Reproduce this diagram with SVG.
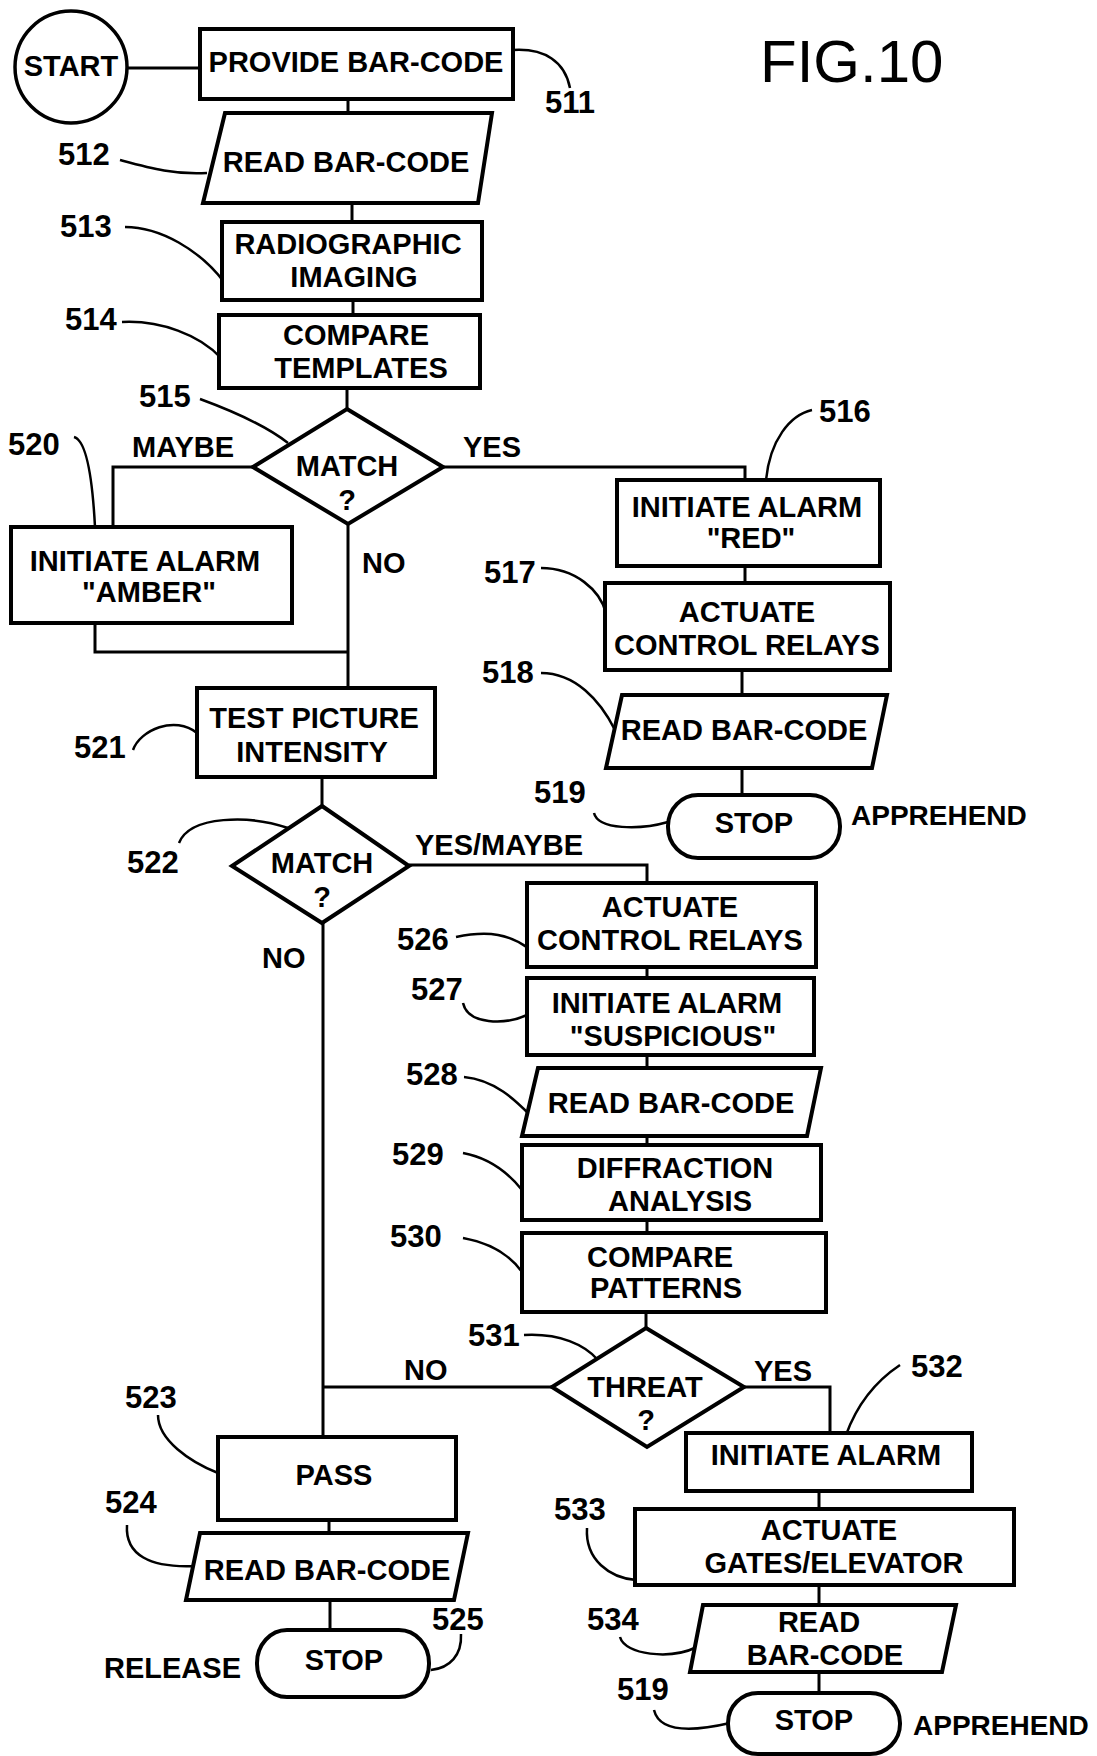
<svg xmlns="http://www.w3.org/2000/svg" width="1097" height="1756" viewBox="0 0 1097 1756">
<style>
.n{fill:#fff;stroke:#000;stroke-width:4}
.c{fill:none;stroke:#000;stroke-width:3}
.l{fill:none;stroke:#000;stroke-width:2.5}
text{font-family:"Liberation Sans",Arial,sans-serif;font-weight:bold;font-size:29px;fill:#000}
.t{text-anchor:middle}
.r{font-size:31px}
</style>
<rect width="1097" height="1756" fill="#fff"/>
<text x="760" y="82" style="font-size:60px;font-weight:normal">FIG.10</text>
<g id="connectors">
<path class="c" d="M127,68 H200"/>
<path class="c" d="M348,99 V113"/>
<path class="c" d="M352,203 V222"/>
<path class="c" d="M353,300 V315"/>
<path class="c" d="M347,388 V409"/>
<path class="c" d="M253,467 H113 V527"/>
<path class="c" d="M95,623 V652 H349"/>
<path class="c" d="M348,524 V690"/>
<path class="c" d="M443,467 H745 V480"/>
<path class="c" d="M745,566 V583"/>
<path class="c" d="M742,670 V695"/>
<path class="c" d="M742,768 V795"/>
<path class="c" d="M322,777 V806"/>
<path class="c" d="M409,865 H647 V883"/>
<path class="c" d="M647,967 V978"/>
<path class="c" d="M647,1055 V1068"/>
<path class="c" d="M647,1136 V1145"/>
<path class="c" d="M647,1220 V1233"/>
<path class="c" d="M646,1312 V1328"/>
<path class="c" d="M323,923 V1437"/>
<path class="c" d="M552,1387 H323"/>
<path class="c" d="M744,1387 H830 V1433"/>
<path class="c" d="M819,1491 V1509"/>
<path class="c" d="M819,1585 V1605"/>
<path class="c" d="M819,1672 V1693"/>
<path class="c" d="M329,1520 V1533"/>
<path class="c" d="M330,1600 V1630"/>
<text x="132" y="457">MAYBE</text>
<text x="463" y="457">YES</text>
<text x="362" y="573">NO</text>
<text x="415" y="855">YES/MAYBE</text>
<text x="262" y="968">NO</text>
<text x="404" y="1380">NO</text>
<text x="754" y="1381">YES</text>
<text x="851" y="825" style="font-size:28px">APPREHEND</text>
<text x="104" y="1678">RELEASE</text>
<text x="913" y="1735" style="font-size:28px">APPREHEND</text>
</g>
<g id="leaders">
<path class="l" d="M513,50 C545,48 565,62 570,88"/>
<path class="l" d="M120,160 C150,168 175,175 207,173"/>
<path class="l" d="M125,227 C160,227 200,250 224,282"/>
<path class="l" d="M122,322 C160,320 200,335 221,358"/>
<path class="l" d="M200,399 C230,410 265,425 288,443"/>
<path class="l" d="M74,437 C85,440 92,470 95,527"/>
<path class="l" d="M812,410 C790,415 770,440 766,480"/>
<path class="l" d="M541,568 C575,568 600,590 606,613"/>
<path class="l" d="M541,673 C575,673 600,700 615,730"/>
<path class="l" d="M594,813 C598,830 640,830 668,822"/>
<path class="l" d="M133,750 C140,730 175,715 197,733"/>
<path class="l" d="M179,843 C190,815 250,815 288,828"/>
<path class="l" d="M456,937 C490,930 510,935 528,948"/>
<path class="l" d="M463,1003 C468,1025 505,1025 527,1015"/>
<path class="l" d="M464,1077 C495,1080 515,1100 530,1115"/>
<path class="l" d="M463,1153 C490,1158 510,1175 522,1190"/>
<path class="l" d="M463,1238 C490,1243 510,1255 522,1272"/>
<path class="l" d="M524,1335 C560,1333 585,1345 598,1360"/>
<path class="l" d="M900,1365 C870,1385 855,1410 846,1435"/>
<path class="l" d="M158,1415 C158,1440 190,1462 218,1473"/>
<path class="l" d="M127,1525 C125,1555 150,1568 195,1566"/>
<path class="l" d="M461,1634 C462,1655 450,1668 431,1670"/>
<path class="l" d="M587,1528 C585,1560 610,1578 636,1580"/>
<path class="l" d="M620,1637 C625,1655 670,1660 697,1647"/>
<path class="l" d="M654,1710 C660,1735 700,1730 730,1723"/>
<text class="r" x="545" y="113">511</text>
<text class="r" x="58" y="165">512</text>
<text class="r" x="60" y="237">513</text>
<text class="r" x="65" y="330">514</text>
<text class="r" x="139" y="407">515</text>
<text class="r" x="8" y="455">520</text>
<text class="r" x="819" y="422">516</text>
<text class="r" x="484" y="583">517</text>
<text class="r" x="482" y="683">518</text>
<text class="r" x="534" y="803">519</text>
<text class="r" x="74" y="758">521</text>
<text class="r" x="127" y="873">522</text>
<text class="r" x="397" y="950">526</text>
<text class="r" x="411" y="1000">527</text>
<text class="r" x="406" y="1085">528</text>
<text class="r" x="392" y="1165">529</text>
<text class="r" x="390" y="1247">530</text>
<text class="r" x="468" y="1346">531</text>
<text class="r" x="911" y="1377">532</text>
<text class="r" x="125" y="1408">523</text>
<text class="r" x="105" y="1513">524</text>
<text class="r" x="432" y="1630">525</text>
<text class="r" x="554" y="1520">533</text>
<text class="r" x="587" y="1630">534</text>
<text class="r" x="617" y="1700">519</text>
</g>
<g id="start"><circle class="n" style="stroke-width:3.5" cx="71" cy="67" r="56"/><text class="t" x="71" y="76">START</text></g>
<g id="n511"><rect class="n" x="200" y="29" width="313" height="70"/><text class="t" x="356" y="72">PROVIDE BAR-CODE</text></g>
<g id="n512"><polygon class="n" points="225,113 492,113 478,203 203,203"/><text class="t" x="346" y="172">READ BAR-CODE</text></g>
<g id="n513"><rect class="n" x="222" y="222" width="260" height="78"/><text class="t" x="348" y="254">RADIOGRAPHIC</text><text class="t" x="354" y="287">IMAGING</text></g>
<g id="n514"><rect class="n" x="219" y="315" width="261" height="73"/><text class="t" x="356" y="345">COMPARE</text><text class="t" x="361" y="378">TEMPLATES</text></g>
<g id="n515"><polygon class="n" points="347,409 443,467 348,524 253,467"/><text class="t" x="347" y="476">MATCH</text><text class="t" x="347" y="510">?</text></g>
<g id="n520"><rect class="n" x="11" y="527" width="281" height="96"/><text class="t" x="145" y="571">INITIATE ALARM</text><text class="t" x="149" y="602">"AMBER"</text></g>
<g id="n516"><rect class="n" x="617" y="480" width="263" height="86"/><text class="t" x="747" y="517">INITIATE ALARM</text><text class="t" x="751" y="548">"RED"</text></g>
<g id="n517"><rect class="n" x="605" y="583" width="285" height="87"/><text class="t" x="747" y="622">ACTUATE</text><text class="t" x="747" y="655">CONTROL RELAYS</text></g>
<g id="n518"><polygon class="n" points="622,695 887,695 872,768 606,768"/><text class="t" x="744" y="740">READ BAR-CODE</text></g>
<g id="n519a"><rect class="n" x="668" y="795" width="172" height="63" rx="30" ry="31"/><text class="t" x="754" y="833">STOP</text></g>
<g id="n521"><rect class="n" x="197" y="688" width="238" height="89"/><text class="t" x="314" y="728">TEST PICTURE</text><text class="t" x="312" y="762">INTENSITY</text></g>
<g id="n522"><polygon class="n" points="322,806 409,866 322,923 232,866"/><text class="t" x="322" y="873">MATCH</text><text class="t" x="322" y="907">?</text></g>
<g id="n526"><rect class="n" x="527" y="883" width="289" height="84"/><text class="t" x="670" y="917">ACTUATE</text><text class="t" x="670" y="950">CONTROL RELAYS</text></g>
<g id="n527"><rect class="n" x="527" y="978" width="287" height="77"/><text class="t" x="667" y="1013">INITIATE ALARM</text><text class="t" x="673" y="1046">"SUSPICIOUS"</text></g>
<g id="n528"><polygon class="n" points="538,1068 821,1068 807,1136 522,1136"/><text class="t" x="671" y="1113">READ BAR-CODE</text></g>
<g id="n529"><rect class="n" x="522" y="1145" width="299" height="75"/><text class="t" x="675" y="1178">DIFFRACTION</text><text class="t" x="680" y="1211">ANALYSIS</text></g>
<g id="n530"><rect class="n" x="522" y="1233" width="304" height="79"/><text class="t" x="660" y="1267">COMPARE</text><text class="t" x="666" y="1298">PATTERNS</text></g>
<g id="n531"><polygon class="n" points="646,1328 744,1387 647,1447 552,1387"/><text class="t" x="645" y="1397">THREAT</text><text class="t" x="646" y="1430">?</text></g>
<g id="n532"><rect class="n" x="686" y="1433" width="286" height="58"/><text class="t" x="826" y="1465">INITIATE ALARM</text></g>
<g id="n533"><rect class="n" x="635" y="1509" width="379" height="76"/><text class="t" x="829" y="1540">ACTUATE</text><text class="t" x="834" y="1573">GATES/ELEVATOR</text></g>
<g id="n534"><polygon class="n" points="703,1605 956,1605 942,1672 690,1672"/><text class="t" x="819" y="1632">READ</text><text class="t" x="825" y="1665">BAR-CODE</text></g>
<g id="n519b"><rect class="n" x="728" y="1693" width="172" height="61" rx="30" ry="30"/><text class="t" x="814" y="1730">STOP</text></g>
<g id="n523"><rect class="n" x="218" y="1437" width="238" height="83"/><text class="t" x="334" y="1485">PASS</text></g>
<g id="n524"><polygon class="n" points="200,1533 468,1533 454,1600 186,1600"/><text class="t" x="327" y="1580">READ BAR-CODE</text></g>
<g id="n525"><rect class="n" x="257" y="1630" width="172" height="67" rx="30" ry="33"/><text class="t" x="344" y="1670">STOP</text></g>
</svg>
